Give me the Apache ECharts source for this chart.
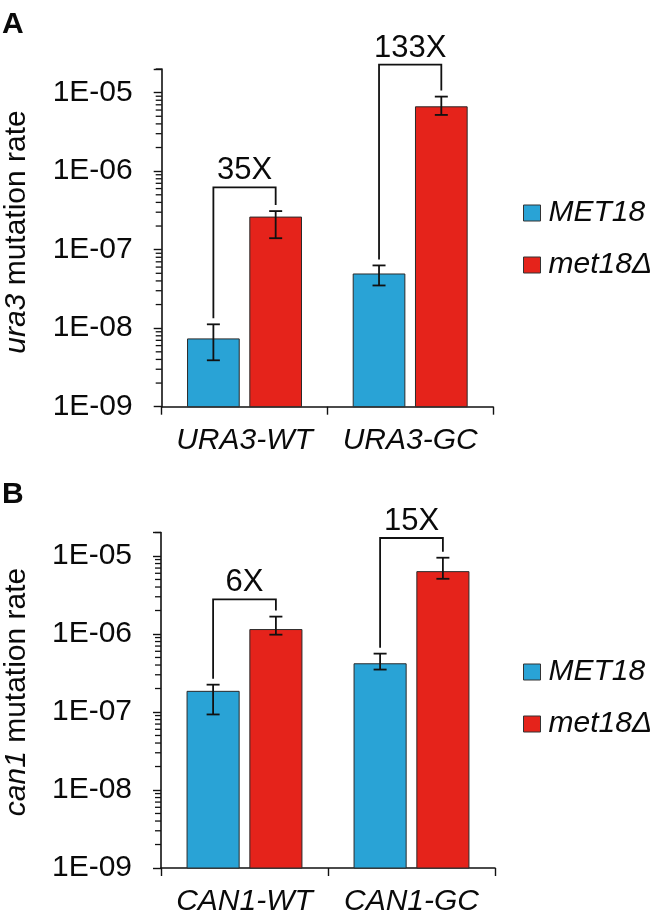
<!DOCTYPE html>
<html>
<head>
<meta charset="utf-8">
<script src="https://cdn.jsdelivr.net/npm/echarts@6/dist/echarts.min.js"></script>
<style>
html,body{margin:0;padding:0;background:#fff;}
#chart{width:662px;height:917px;}
</style>
</head>
<body>
<div id="chart"></div>
<script>
// ---------- data ----------
const categoriesA = ['URA3-WT', 'URA3-GC'];
const met18A = [7.3e-9, 4.9e-8];
const met18ErrLowA = [3.9e-9, 3.5e-8];
const met18ErrHighA = [1.12e-8, 6.3e-8];
const met18DelA = [2.6e-7, 6.6e-6];
const met18DelErrLowA = [1.4e-7, 5.2e-6];
const met18DelErrHighA = [3.1e-7, 8.9e-6];
const foldLabelsA = ['35X', '133X'];
const bracketTopA = [6.2e-7, 2.28e-5];

const categoriesB = ['CAN1-WT', 'CAN1-GC'];
const met18B = [1.84e-7, 4.15e-7];
const met18ErrLowB = [9.3e-8, 3.5e-7];
const met18ErrHighB = [2.24e-7, 5.6e-7];
const met18DelB = [1.14e-6, 6.3e-6];
const met18DelErrLowB = [9.8e-7, 5.1e-6];
const met18DelErrHighB = [1.67e-6, 9.5e-6];
const foldLabelsB = ['6X', '15X'];
const bracketTopB = [2.78e-6, 1.7e-5];

const axisMin = 1e-9;
const axisMax = 2e-5;
const minorMultipliers = [2, 3, 4, 5, 6, 7, 8, 9];
const minorDecades = [1e-9, 1e-8, 1e-7, 1e-6];
const extraMinorTicks = [2e-5];

const seriesNames = ['MET18', 'met18\u0394'];

// ---------- style ----------
const BLUE = '#29A3D6';
const RED = '#E5231B';
const FONT = '"Liberation Sans", Arial, sans-serif';
const TXT = '#0a0a0a';
const BAR_W_FRAC = 0.312;
const BAR_OFF_FRAC = 0.188;

const chart = echarts.init(document.getElementById('chart'), null, {renderer: 'canvas'});

function fmtLog(v) {
  const e = Math.log10(v);
  const r = Math.round(e);
  if (Math.abs(e - r) > 0.02) return '';
  return '1E-' + String(-r).padStart(2, '0');
}

function bandInfo(api, cat, v) {
  const c0 = api.coord([cat, v]);
  const c1 = api.coord([cat === 0 ? 1 : cat - 1, v]);
  const band = Math.abs(c1[0] - c0[0]);
  return {cx: c0[0], band: band, y: c0[1]};
}

function barRenderer(sign) {
  return function (params, api) {
    const cat = api.value(0);
    const v = api.value(1);
    const lo = api.value(2);
    const hi = api.value(3);
    const b = bandInfo(api, cat, v);
    const base = api.coord([cat, axisMin])[1];
    const w = b.band * BAR_W_FRAC;
    const x = b.cx + sign * b.band * BAR_OFF_FRAC;
    const yLo = api.coord([cat, lo])[1];
    const yHi = api.coord([cat, hi])[1];
    const cap = 6.5;
    const lineStyle = {stroke: '#111', lineWidth: 1.8};
    return {
      type: 'group',
      children: [
        {type: 'rect', shape: {x: x - w / 2, y: b.y, width: w, height: base - b.y},
         style: {fill: api.visual('color'), stroke: '#2a2a2a', lineWidth: 1}},
        {type: 'line', shape: {x1: x, y1: yLo, x2: x, y2: yHi}, style: lineStyle},
        {type: 'line', shape: {x1: x - cap, y1: yHi, x2: x + cap, y2: yHi}, style: lineStyle},
        {type: 'line', shape: {x1: x - cap, y1: yLo, x2: x + cap, y2: yLo}, style: lineStyle}
      ]
    };
  };
}

function bracketRenderer(labels) {
  return function (params, api) {
    const cat = api.value(0);
    const leftV = api.value(1);
    const rightV = api.value(2);
    const topV = api.value(3);
    const b = bandInfo(api, cat, topV);
    const lx = b.cx - b.band * BAR_OFF_FRAC;
    const rx = b.cx + b.band * BAR_OFF_FRAC;
    const ly = api.coord([cat, leftV])[1] - 6;
    const ry = api.coord([cat, rightV])[1] - 6;
    const ty = b.y;
    return {
      type: 'group',
      children: [
        {type: 'polyline', shape: {points: [[lx, ly], [lx, ty], [rx, ty], [rx, ry]]},
         style: {stroke: '#111', lineWidth: 1.8, fill: null}},
        {type: 'text', x: (lx + rx) / 2, y: ty - 1,
         style: {text: labels[params.dataIndex], fontSize: 31, fontFamily: FONT, fill: TXT,
                 align: 'center', verticalAlign: 'bottom'}}
      ]
    };
  };
}

function minorTickRenderer(params, api) {
  const v = api.value(1);
  const b = bandInfo(api, 0, v);
  const ax = b.cx - b.band / 2;
  return {type: 'line', shape: {x1: ax - 6, y1: b.y, x2: ax, y2: b.y},
          style: {stroke: '#111', lineWidth: 1.3}};
}

const minorTickValues = [];
minorDecades.forEach(function (d) {
  minorMultipliers.forEach(function (m) { minorTickValues.push(m * d); });
});
extraMinorTicks.forEach(function (v) { minorTickValues.push(v); });

function barData(cats, vals, lows, highs) {
  return cats.map(function (c, i) { return [i, vals[i], lows[i], highs[i]]; });
}
function bracketData(cats, leftHi, rightHi, tops) {
  return cats.map(function (c, i) { return [i, leftHi[i], rightHi[i], tops[i]]; });
}

function xAxisCfg(cats, gridIndex) {
  return {
    type: 'category', gridIndex: gridIndex, data: cats,
    axisLine: {lineStyle: {color: '#111', width: 1.6}},
    axisTick: {show: true, length: 8, lineStyle: {color: '#111', width: 1.4}},
    axisLabel: {interval: 0, hideOverlap: false, fontSize: 30, fontStyle: 'italic',
                fontFamily: FONT, color: TXT, margin: 19}
  };
}
function yAxisCfg(gridIndex) {
  return {
    type: 'log', logBase: 10, gridIndex: gridIndex, min: axisMin, max: axisMax,
    axisLine: {show: true, lineStyle: {color: '#111', width: 1.6}},
    axisTick: {show: true, length: 8, lineStyle: {color: '#111', width: 1.4}},
    splitLine: {show: false},
    axisLabel: {fontSize: 30, fontFamily: FONT, color: TXT, margin: 29, formatter: fmtLog}
  };
}

function legendCfg(top) {
  return {
    orient: 'vertical', left: 523, top: top, padding: 0,
    itemWidth: 17, itemHeight: 16, itemGap: 22, icon: 'rect',
    selectedMode: false,
    textStyle: {fontSize: 30, fontStyle: 'italic', fontFamily: FONT, color: TXT, padding: [0, 0, 0, 3]},
    data: [
      {name: seriesNames[0], itemStyle: {color: BLUE, borderColor: '#333', borderWidth: 1}},
      {name: seriesNames[1], itemStyle: {color: RED, borderColor: '#333', borderWidth: 1}}
    ]
  };
}

const option = {
  animation: false,
  backgroundColor: '#fff',
  grid: [
    {left: 161.7, right: 169, top: 69, bottom: 510.3, containLabel: false},
    {left: 161, right: 167, top: 532.5, bottom: 48, containLabel: false}
  ],
  xAxis: [xAxisCfg(categoriesA, 0), xAxisCfg(categoriesB, 1)],
  yAxis: [yAxisCfg(0), yAxisCfg(1)],
  legend: [legendCfg(198), legendCfg(657)],
  graphic: [
    {type: 'text', left: 2, top: 10, style: {text: 'A', fontSize: 30, fontWeight: 'bold', fontFamily: FONT, fill: TXT}},
    {type: 'text', left: 2, top: 480, style: {text: 'B', fontSize: 30, fontWeight: 'bold', fontFamily: FONT, fill: TXT}},
    {type: 'text', x: 17, y: 232, rotation: Math.PI / 2,
     style: {text: '{i|ura3} mutation rate', fontSize: 30, fontFamily: FONT, fill: TXT,
             align: 'center', verticalAlign: 'middle',
             rich: {i: {fontStyle: 'italic', fontSize: 30, fontFamily: FONT, fill: TXT}}}},
    {type: 'text', x: 17, y: 692, rotation: Math.PI / 2,
     style: {text: '{i|can1} mutation rate', fontSize: 30, fontFamily: FONT, fill: TXT,
             align: 'center', verticalAlign: 'middle',
             rich: {i: {fontStyle: 'italic', fontSize: 30, fontFamily: FONT, fill: TXT}}}}
  ],
  series: [
    {name: seriesNames[0], type: 'custom', xAxisIndex: 0, yAxisIndex: 0, itemStyle: {color: BLUE},
     encode: {x: 0, y: 1}, renderItem: barRenderer(-1),
     data: barData(categoriesA, met18A, met18ErrLowA, met18ErrHighA)},
    {name: seriesNames[1], type: 'custom', xAxisIndex: 0, yAxisIndex: 0, itemStyle: {color: RED},
     encode: {x: 0, y: 1}, renderItem: barRenderer(1),
     data: barData(categoriesA, met18DelA, met18DelErrLowA, met18DelErrHighA)},
    {name: 'bracketsA', type: 'custom', xAxisIndex: 0, yAxisIndex: 0, encode: {x: 0, y: 3},
     renderItem: bracketRenderer(foldLabelsA),
     data: bracketData(categoriesA, met18ErrHighA, met18DelErrHighA, bracketTopA)},
    {name: 'minorA', type: 'custom', xAxisIndex: 0, yAxisIndex: 0, encode: {x: 0, y: 1},
     renderItem: minorTickRenderer, data: minorTickValues.map(function (v) { return [0, v]; })},

    {name: seriesNames[0], type: 'custom', xAxisIndex: 1, yAxisIndex: 1, itemStyle: {color: BLUE},
     encode: {x: 0, y: 1}, renderItem: barRenderer(-1),
     data: barData(categoriesB, met18B, met18ErrLowB, met18ErrHighB)},
    {name: seriesNames[1], type: 'custom', xAxisIndex: 1, yAxisIndex: 1, itemStyle: {color: RED},
     encode: {x: 0, y: 1}, renderItem: barRenderer(1),
     data: barData(categoriesB, met18DelB, met18DelErrLowB, met18DelErrHighB)},
    {name: 'bracketsB', type: 'custom', xAxisIndex: 1, yAxisIndex: 1, encode: {x: 0, y: 3},
     renderItem: bracketRenderer(foldLabelsB),
     data: bracketData(categoriesB, met18ErrHighB, met18DelErrHighB, bracketTopB)},
    {name: 'minorB', type: 'custom', xAxisIndex: 1, yAxisIndex: 1, encode: {x: 0, y: 1},
     renderItem: minorTickRenderer, data: minorTickValues.map(function (v) { return [0, v]; })}
  ]
};
chart.setOption(option);
</script>
</body>
</html>
